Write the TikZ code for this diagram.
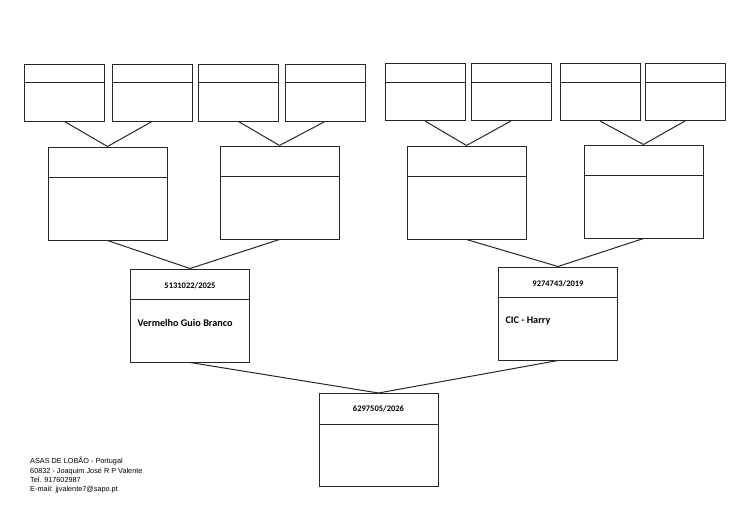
\documentclass[tikz,border=0pt]{standalone}
\usepackage{fontspec}
\setmainfont{Carlito}
\newfontfamily\footfont{Liberation Sans}
\begin{document}
\begin{tikzpicture}[x=1pt,y=-1pt,
  box/.style={draw=black!85,line width=1pt,rectangle,inner sep=0pt},
  smallbox/.style={box,minimum width=80pt,minimum height=57pt},
  bigbox/.style={box,minimum width=119pt,minimum height=93pt},
  link/.style={draw=black!85,line width=1pt},
  numtxt/.style={font=\bfseries\fontsize{8.5}{10}\selectfont},
  nametxt/.style={anchor=west,font=\bfseries\fontsize{10.2}{12}\selectfont}]
\useasboundingbox (0,0) rectangle (750,530);

% great-grandparents
\node[smallbox] (g1) at (64.5,92.5) {};
\node[smallbox] (g2) at (152,92.5) {};
\node[smallbox] (g3) at (238.5,92.5) {};
\node[smallbox] (g4) at (325,92.5) {};
\node[smallbox] (g5) at (425,92) {};
\node[smallbox] (g6) at (511,92) {};
\node[smallbox] (g7) at (600,92) {};
\node[smallbox] (g8) at (685,92) {};
\foreach \n in {g1,g2,g3,g4,g5,g6,g7,g8}
  \draw[link] ([yshift=-19pt]\n.north west) -- ([yshift=-19pt]\n.north east);

% grandparents
\node[bigbox] (p1) at (107.5,193.5) {};
\node[bigbox] (p2) at (279.5,192.5) {};
\node[bigbox] (p3) at (466.5,192.5) {};
\node[bigbox] (p4) at (643.5,191.5) {};
\foreach \n in {p1,p2,p3,p4}
  \draw[link] ([yshift=-31pt]\n.north west) -- ([yshift=-31pt]\n.north east);

% parents
\node[bigbox] (sire) at (190,315.5) {};
\node[bigbox] (dam) at (558,313.5) {};
% bird
\node[bigbox] (bird) at (378.5,440) {};
\foreach \n in {sire,dam,bird}
  \draw[link] ([yshift=-31pt]\n.north west) -- ([yshift=-31pt]\n.north east);

\draw[link] (g1.south) -- (p1.north);
\draw[link] (g2.south) -- (p1.north);
\draw[link] (g3.south) -- (p2.north);
\draw[link] (g4.south) -- (p2.north);
\draw[link] (g5.south) -- (p3.north);
\draw[link] (g6.south) -- (p3.north);
\draw[link] (g7.south) -- (p4.north);
\draw[link] (g8.south) -- (p4.north);
\draw[link] (p1.south) -- (sire.north);
\draw[link] (p2.south) -- (sire.north);
\draw[link] (p3.south) -- (dam.north);
\draw[link] (p4.south) -- (dam.north);
\draw[link] (sire.south) -- (bird.north);
\draw[link] (dam.south) -- (bird.north);

\node[numtxt] (sirering) at (190,286) {5131022/2025};
\node[nametxt] (sirename) at (134,323) {Vermelho Guio Branco};
\node[numtxt] (damring) at (558,284) {9274743/2019};
\node[nametxt] (damname) at (502,321) {CIC - Harry};
\node[numtxt] (birdring) at (378.5,409) {6297505/2026};

\node[anchor=north west,align=left,inner sep=0pt,
  font=\footfont\fontsize{7.3}{9.4}\selectfont] (breeder) at (30,457)
  {ASAS DE LOBÃO - Portugal\\60832 - Joaquim José R P Valente\\Tel. 917602987\\E-mail: jjvalente7@sapo.pt};
\end{tikzpicture}
\end{document}
